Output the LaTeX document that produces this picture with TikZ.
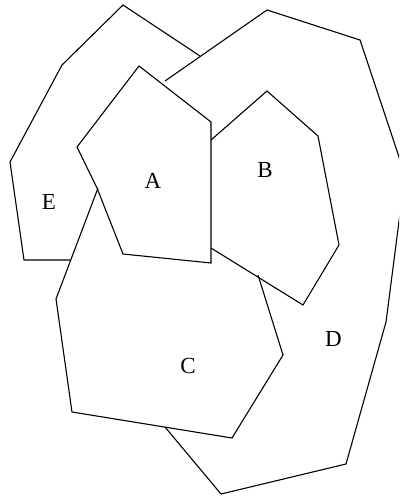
\documentclass[tikz,border=0pt]{standalone}
\usepackage{fontspec}
\setmainfont{Liberation Serif}
\begin{document}
\begin{tikzpicture}[x=1pt,y=-1pt,
  edge/.style={draw=black,line width=1.1pt,line join=miter},
  lbl/.style={anchor=base,inner sep=0pt,font=\fontsize{23}{23}\selectfont}]
\clip (0,0) rectangle (399,497);
\fill[white] (0,0) rectangle (399,497);
% E
\draw[edge] (70,260) -- (24,260) -- (10,162) -- (62,65) -- (123,5) -- (200,56);
% D
\draw[edge] (165,81) -- (267,10) -- (360,40) -- (405,175) -- (386,322) -- (346,464) -- (221,494) -- (165,427);
% C
\draw[edge] (98,188) -- (56,299) -- (72,412) -- (232,438) -- (283,355) -- (258,275);
% A
\draw[edge] (139,66) -- (211,122) -- (211,263) -- (123,254) -- (97,188) -- (77,147) -- cycle;
% B
\draw[edge] (211,140) -- (267,91) -- (318,136) -- (339,245) -- (303,305) -- (211,248);
\node[lbl] (la) at (153,188.5) {A};
\node[lbl] (lb) at (265,177) {B};
\node[lbl] (lc) at (188,373) {C};
\node[lbl] (ld) at (333.5,346.5) {D};
\node[lbl] (le) at (49,209) {E};
\end{tikzpicture}
\end{document}
